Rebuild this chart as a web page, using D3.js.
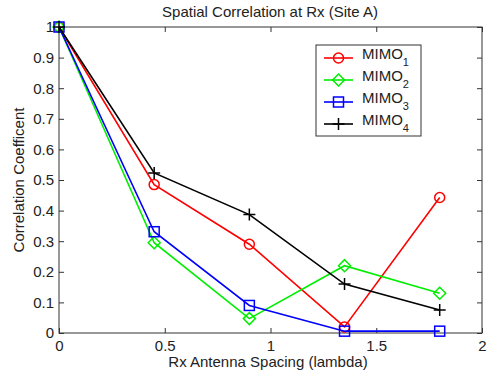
<!DOCTYPE html>
<html>
<head>
<meta charset="utf-8">
<script src="https://cdn.jsdelivr.net/npm/d3@7/dist/d3.min.js"></script>
<style>
  body { margin: 0; background: #fff; }
  svg { font-family: "Liberation Sans", Arial, sans-serif; }
  .axis text { font-size: 15px; fill: #222; }
  .axis path, .axis line { stroke: #333; }
</style>
</head>
<body>
<svg width="492" height="373"></svg>
<script>
var spacing = [0, 0.45, 0.9, 1.35, 1.8];
var mimo1 = [1, 0.485, 0.29, 0.02, 0.443];
var mimo2 = [1, 0.295, 0.047, 0.22, 0.13];
var mimo3 = [1, 0.331, 0.09, 0.006, 0.006];
var mimo4 = [1, 0.523, 0.387, 0.16, 0.075];
var seriesNames = ["1", "2", "3", "4"];
var seriesColors = ["#ff0000", "#00ee00", "#0000ff", "#000000"];
var seriesMarkers = ["circle", "diamond", "square", "plus"];
var xTicks = [0, 0.5, 1, 1.5, 2];
var yTicks = [0, 0.1, 0.2, 0.3, 0.4, 0.5, 0.6, 0.7, 0.8, 0.9, 1];

var svg = d3.select("svg");
var mLeft = 59, mRight = 482, mTop = 27, mBottom = 333;

var x = d3.scaleLinear().domain([0, 2]).range([mLeft, mRight]);
var y = d3.scaleLinear().domain([0, 1]).range([mBottom, mTop]);

var series = [mimo1, mimo2, mimo3, mimo4];

// frame
svg.append("rect")
    .attr("x", mLeft).attr("y", mTop)
    .attr("width", mRight - mLeft).attr("height", mBottom - mTop)
    .attr("fill", "none").attr("stroke", "#333");

svg.append("g").attr("class", "axis")
    .attr("transform", "translate(0," + mBottom + ")")
    .call(d3.axisBottom(x).tickValues(xTicks).tickSize(-5).tickPadding(7).tickFormat(d3.format("")));
svg.append("g").attr("class", "axis")
    .attr("transform", "translate(" + mLeft + ",0)")
    .call(d3.axisLeft(y).tickValues(yTicks).tickSize(-5).tickPadding(5).tickFormat(d3.format("")));
svg.append("g").attr("class", "axis")
    .attr("transform", "translate(0," + mTop + ")")
    .call(d3.axisTop(x).tickValues(xTicks).tickSize(-5).tickFormat(""));
svg.append("g").attr("class", "axis")
    .attr("transform", "translate(" + mRight + ",0)")
    .call(d3.axisRight(y).tickValues(yTicks).tickSize(-5).tickFormat(""));
svg.selectAll(".axis .domain").remove();

var line = d3.line()
    .x(function(d, i) { return x(spacing[i]); })
    .y(function(d) { return y(d); });

function drawMarker(g, type, color, cx, cy) {
  if (type === "circle") {
    g.append("circle").attr("cx", cx).attr("cy", cy).attr("r", 5)
      .attr("fill", "none").attr("stroke", color).attr("stroke-width", 1.5);
  } else if (type === "diamond") {
    g.append("path").attr("d", "M" + cx + "," + (cy - 6) + "L" + (cx + 6) + "," + cy + "L" + cx + "," + (cy + 6) + "L" + (cx - 6) + "," + cy + "Z")
      .attr("fill", "none").attr("stroke", color).attr("stroke-width", 1.5);
  } else if (type === "square") {
    g.append("rect").attr("x", cx - 5).attr("y", cy - 5).attr("width", 10).attr("height", 10)
      .attr("fill", "none").attr("stroke", color).attr("stroke-width", 1.5);
  } else {
    g.append("path").attr("d", "M" + (cx - 6) + "," + cy + "H" + (cx + 6) + "M" + cx + "," + (cy - 6) + "V" + (cy + 6))
      .attr("fill", "none").attr("stroke", color).attr("stroke-width", 1.5);
  }
}

series.forEach(function(s, k) {
  var g = svg.append("g");
  g.append("path").datum(s)
    .attr("d", line)
    .attr("fill", "none")
    .attr("stroke", seriesColors[k])
    .attr("stroke-width", 1.6);
  s.forEach(function(v, i) {
    drawMarker(g, seriesMarkers[k], seriesColors[k], x(spacing[i]), y(v));
  });
});

// legend
var lg = svg.append("g");
lg.append("rect").attr("x", 316).attr("y", 45).attr("width", 105).attr("height", 91)
  .attr("fill", "#fff").attr("stroke", "#333");
seriesNames.forEach(function(n, k) {
  var ly = 58 + k * 22;
  lg.append("line").attr("x1", 324).attr("x2", 353).attr("y1", ly).attr("y2", ly)
    .attr("stroke", seriesColors[k]).attr("stroke-width", 1.6);
  drawMarker(lg, seriesMarkers[k], seriesColors[k], 338.5, ly);
  var t = lg.append("text").attr("x", 362).attr("y", ly + 1).attr("font-size", 15).attr("fill", "#222");
  t.append("tspan").text("MIMO");
  t.append("tspan").attr("dy", 7).attr("font-size", 11).text(n);
});

svg.append("text").attr("x", 270).attr("y", 17).attr("text-anchor", "middle")
  .attr("font-size", 15).attr("fill", "#222").text("Spatial Correlation at Rx (Site A)");
svg.append("text").attr("x", 268).attr("y", 367).attr("text-anchor", "middle")
  .attr("font-size", 15).attr("fill", "#222").text("Rx Antenna Spacing (lambda)");
svg.append("text").attr("transform", "translate(24," + ((mTop + mBottom) / 2) + ") rotate(-90)")
  .attr("text-anchor", "middle").attr("font-size", 15).attr("fill", "#222").text("Correlation Coefficent");
</script>
</body>
</html>
